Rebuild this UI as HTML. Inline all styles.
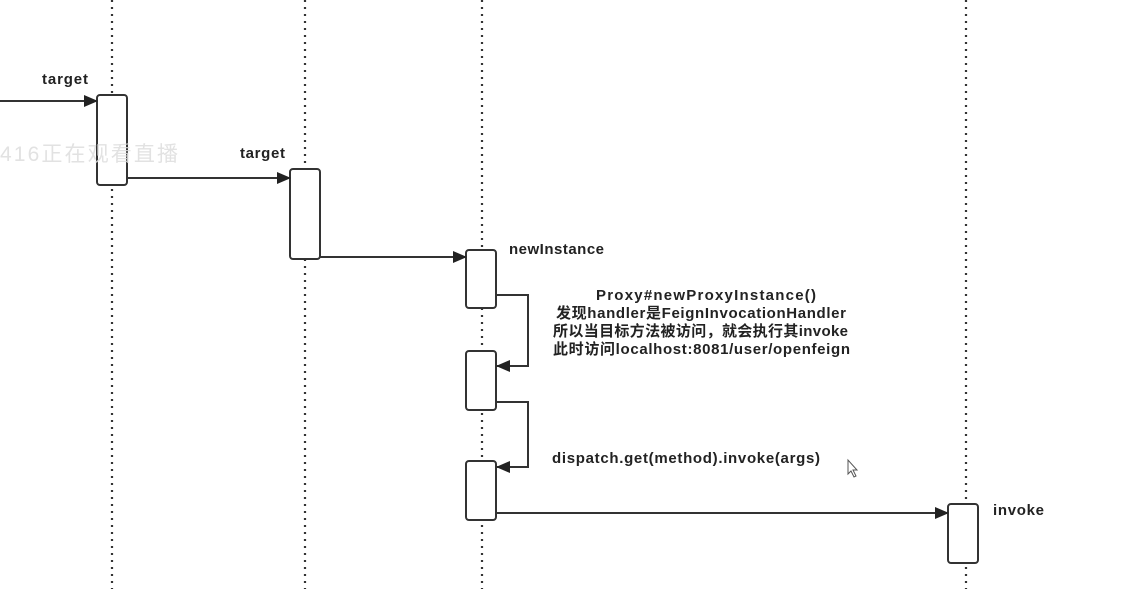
<!DOCTYPE html>
<html><head><meta charset="utf-8"><style>
html,body{margin:0;padding:0;background:#fff;}
svg{display:block;}
text{font-family:"Liberation Sans","Noto Sans CJK SC",sans-serif;font-weight:bold;font-size:15px;fill:#222;}
</style></head><body>
<svg width="1125" height="589" viewBox="0 0 1125 589" xmlns="http://www.w3.org/2000/svg">
<defs><marker id="a" markerWidth="14" markerHeight="12" refX="13" refY="6" orient="auto" markerUnits="userSpaceOnUse"><path d="M0,0 L14,6 L0,12 z" fill="#222"/></marker></defs>
<g stroke="#333" stroke-width="2.2" stroke-dasharray="2,5">
<line x1="112" y1="0" x2="112" y2="589"/><line x1="305" y1="0" x2="305" y2="589"/>
<line x1="482" y1="0" x2="482" y2="589"/><line x1="966" y1="0" x2="966" y2="589"/>
</g>
<g fill="#fff" stroke="#333" stroke-width="2">
<rect x="97" y="95" width="30" height="90" rx="3"/><rect x="290" y="169" width="30" height="90" rx="3"/>
<rect x="466" y="250" width="30" height="58" rx="3"/><rect x="466" y="351" width="30" height="59" rx="3"/>
<rect x="466" y="461" width="30" height="59" rx="3"/><rect x="948" y="504" width="30" height="59" rx="3"/>
</g>
<text x="0" y="161" textLength="178" style="font-size:21px;fill:#ddd;font-weight:normal;opacity:0.85">416正在观看直播</text>
<g stroke="#333" stroke-width="2" fill="none" marker-end="url(#a)">
<line x1="0" y1="101" x2="97" y2="101"/><line x1="127" y1="178" x2="290" y2="178"/>
<line x1="320" y1="257" x2="466" y2="257"/>
<polyline points="496,295 528,295 528,366 497,366"/>
<polyline points="496,402 528,402 528,467 497,467"/>
<line x1="496" y1="513" x2="948" y2="513"/>
</g>
<text x="42" y="84" textLength="46">target</text><text x="240" y="158" textLength="45">target</text>
<text x="509" y="254" textLength="95">newInstance</text>
<text x="596" y="300" textLength="220">Proxy#newProxyInstance()</text>
<text x="556" y="318" textLength="290">发现handler是FeignInvocationHandler</text>
<text x="553" y="336" textLength="295">所以当目标方法被访问，就会执行其invoke</text>
<text x="553" y="354" textLength="297">此时访问localhost:8081/user/openfeign</text>
<text x="552" y="463" textLength="268">dispatch.get(method).invoke(args)</text>
<text x="993" y="515" textLength="51">invoke</text>
<path d="M848,460 L848,474 L851,471 L854,477 L856,476 L853,470 L857,470 z" fill="#fff" stroke="#555" stroke-width="1"/>
</svg>
</body></html>
